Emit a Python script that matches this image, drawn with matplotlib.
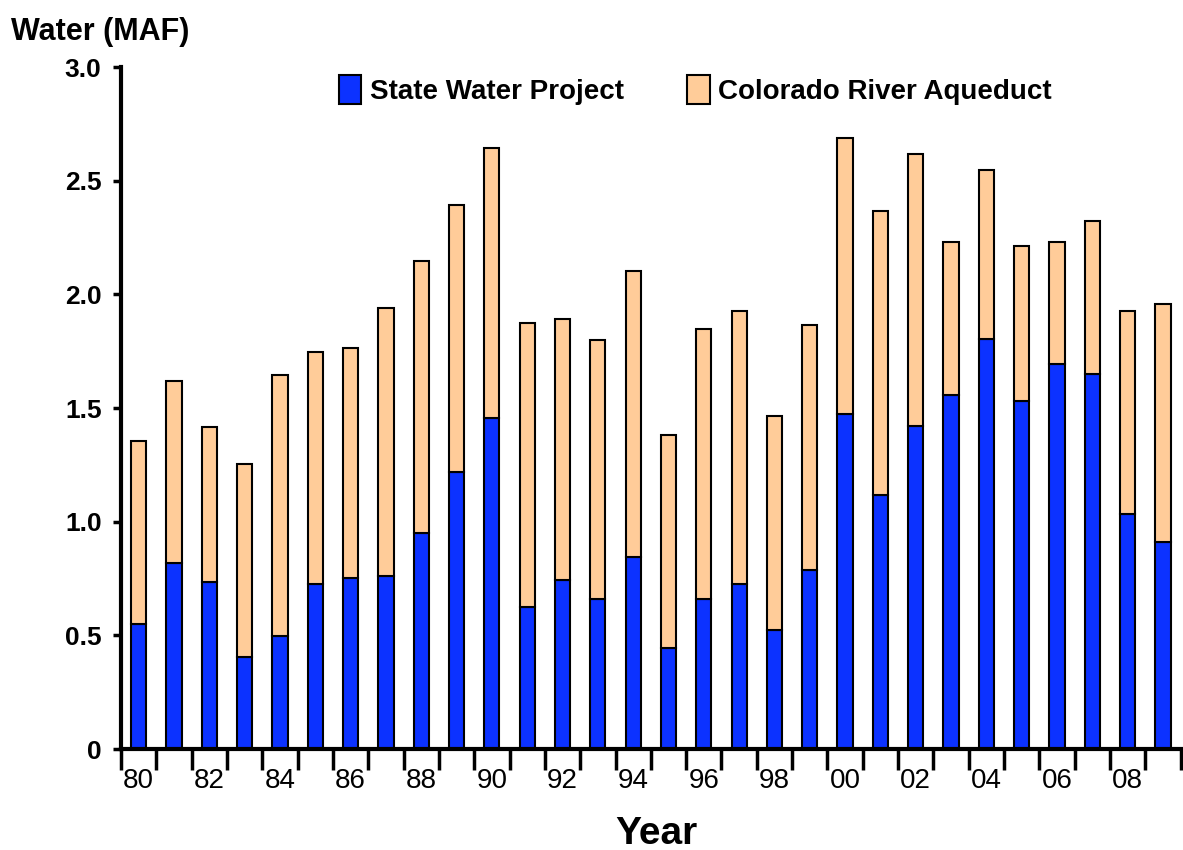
import numpy as np
import matplotlib.pyplot as plt
from matplotlib.patches import Patch

# ── Data (million acre-feet) ───────────────────────────────────────────────────
YEARS = list(range(1980, 2010))
SWP   = [0.55, 0.82, 0.735, 0.405, 0.497, 0.726, 0.752, 0.761, 0.95, 1.219,
         1.456, 0.625, 0.743, 0.66, 0.845, 0.444, 0.66, 0.726, 0.524, 0.787,
         1.474, 1.117, 1.421, 1.557, 1.804, 1.531, 1.694, 1.65, 1.034, 0.911]
TOTAL = [1.355, 1.62, 1.417, 1.254, 1.645, 1.747, 1.764, 1.94, 2.147, 2.393,
         2.644, 1.874, 1.892, 1.80, 2.103, 1.381, 1.848, 1.927, 1.465, 1.865,
         2.688, 2.367, 2.618, 2.23, 2.547, 2.213, 2.23, 2.323, 1.927, 1.958]
CRA   = [t - s for t, s in zip(TOTAL, SWP)]

BLUE  = "#0c32ff"
PEACH = "#ffcc99"
FONT  = "Liberation Sans"

plt.rcParams["font.family"] = [FONT, "DejaVu Sans"]

fig = plt.figure(figsize=(11.83, 8.5), dpi=100)
ax = fig.add_axes([0.1023, 0.1188, 0.8957, 0.8022])

x = np.arange(len(YEARS))
bw = 0.43
ax.bar(x, SWP, width=bw, color=BLUE, edgecolor="black", linewidth=1.5)
ax.bar(x, CRA, width=bw, bottom=SWP, color=PEACH, edgecolor="black", linewidth=1.5)

ax.set_xlim(-0.5, len(YEARS) - 0.5)
ax.set_ylim(0, 3.0)

# y axis
ax.set_yticks([0, 0.5, 1.0, 1.5, 2.0, 2.5, 3.0])
ax.set_yticklabels(["0", "0.5", "1.0", "1.5", "2.0", "2.5", "3.0"],
                   fontsize=19, fontweight="bold")
ax.tick_params(axis="y", direction="out", length=6, width=2.5, pad=8)

# x axis: tick marks at category boundaries, labels every other year
ax.set_xticks(np.arange(len(YEARS) + 1) - 0.5)
ax.set_xticklabels([])
ax.tick_params(axis="x", which="major", direction="out", length=15, width=2.5)
ax.set_xticks(x[::2], minor=True)
ax.set_xticklabels([f"{y % 100:02d}" for y in YEARS[::2]], minor=True,
                   fontsize=20)
ax.tick_params(axis="x", which="minor", length=0, pad=14)

for side in ["top", "right"]:
    ax.spines[side].set_visible(False)
for side in ["left", "bottom"]:
    ax.spines[side].set_linewidth(3)

fig.text(0.009, 0.962, "Water (MAF)", fontsize=22, fontweight="bold",
         ha="left", va="center")
fig.text(0.555, 0.019, "Year", fontsize=28, fontweight="bold",
         ha="center", va="center")

handles = [Patch(facecolor=BLUE, edgecolor="black", linewidth=1.5),
           Patch(facecolor=PEACH, edgecolor="black", linewidth=1.5)]
ax.legend(handles, ["State Water Project", "Colorado River Aqueduct"],
          ncol=2, frameon=False, loc="upper center",
          bbox_to_anchor=(0.542, 1.025),
          prop={"family": FONT, "weight": "bold", "size": 20},
          handlelength=0.8, handleheight=1.2, handletextpad=0.3,
          columnspacing=2.3)

fig.savefig("out.png", dpi=100)
